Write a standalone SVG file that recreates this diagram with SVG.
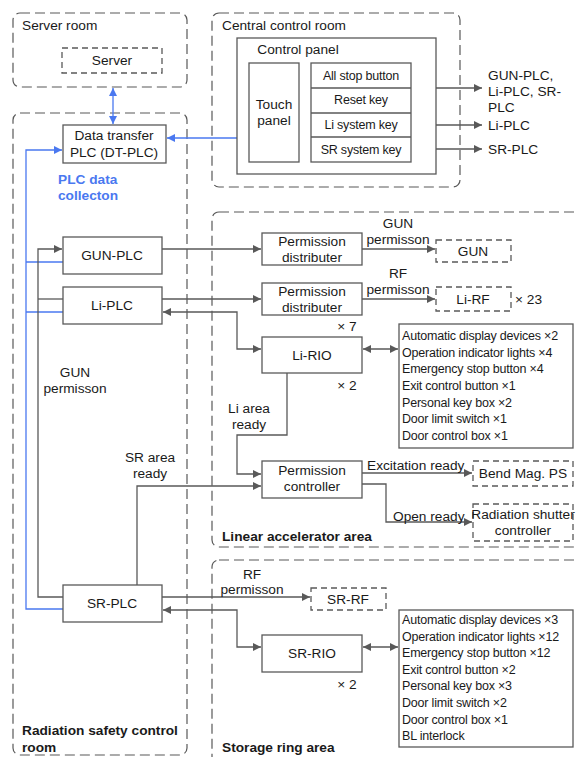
<svg xmlns="http://www.w3.org/2000/svg" width="576" height="757" viewBox="0 0 576 757">
<defs>
<marker id="ag" viewBox="0 0 10 10" refX="10" refY="5" markerWidth="8" markerHeight="8" markerUnits="userSpaceOnUse" orient="auto-start-reverse"><path d="M0,0 L10,5 L0,10 z" fill="#595959"/></marker>
<marker id="ab" viewBox="0 0 10 10" refX="10" refY="5" markerWidth="8" markerHeight="8" markerUnits="userSpaceOnUse" orient="auto-start-reverse"><path d="M0,0 L10,5 L0,10 z" fill="#4a78f0"/></marker>
<style>
text{font-family:"Liberation Sans",Arial,sans-serif;fill:#1a1a1a;font-size:13.7px}
.c{text-anchor:middle}
.b{font-weight:bold}
.bl{fill:#4a78f0;font-weight:bold}
.sm{font-size:12.5px;letter-spacing:-0.2px}
.room{fill:none;stroke:#595959;stroke-width:1.2;stroke-dasharray:10 5}
.box{fill:#fff;stroke:#595959;stroke-width:1.3}
.dbox{fill:#fff;stroke:#595959;stroke-width:1.3;stroke-dasharray:6 4}
.ln{fill:none;stroke:#595959;stroke-width:1.3}
.bln{fill:none;stroke:#4a78f0;stroke-width:1.3}
</style>
</defs>
<rect width="576" height="757" fill="#fff"/>
<g id="rooms">
<rect class="room" x="13" y="13" width="174" height="74" rx="7"/>
<rect class="room" x="13" y="113" width="174" height="642" rx="7"/>
<rect class="room" x="212" y="13" width="248" height="174" rx="7"/>
<rect class="room" x="212" y="212" width="380" height="335" rx="7"/>
<rect class="room" x="212" y="560" width="380" height="210" rx="7"/>
<text x="22" y="30">Server room</text>
<text x="222" y="30">Central control room</text>
<text class="b" x="22" y="735">Radiation safety control</text>
<text class="b" x="22" y="752">room</text>
<text class="b" x="222" y="541">Linear accelerator area</text>
<text class="b" x="222" y="752">Storage ring area</text>
<text class="bl" x="58" y="184">PLC data</text>
<text class="bl" x="58" y="200">collecton</text>
</g>
<g id="connectors">
<line class="bln" x1="113" y1="88" x2="113" y2="124" marker-start="url(#ab)" marker-end="url(#ab)"/>
<line class="bln" x1="167" y1="138" x2="248" y2="138" marker-start="url(#ab)" marker-end="url(#ab)"/>
<polyline class="bln" points="63,609 26,609 26,150 62,150" marker-end="url(#ab)"/>
<line class="bln" x1="26" y1="262" x2="63" y2="262"/>
<line class="bln" x1="26" y1="312" x2="63" y2="312"/>
<polyline class="ln" points="411,76 423,76 423,100 411,100"/>
<line class="ln" x1="423" y1="88" x2="482" y2="88" marker-end="url(#ag)"/>
<line class="ln" x1="411" y1="125" x2="482" y2="125" marker-end="url(#ag)"/>
<line class="ln" x1="411" y1="149" x2="482" y2="149" marker-end="url(#ag)"/>
<polyline class="ln" points="63,597 38,597 38,249 62,249" marker-end="url(#ag)"/>
<line class="ln" x1="38" y1="299" x2="63" y2="299"/>
<line class="ln" x1="162" y1="249" x2="261" y2="249" marker-end="url(#ag)"/>
<line class="ln" x1="162" y1="299" x2="261" y2="299" marker-end="url(#ag)"/>
<line class="ln" x1="362" y1="249" x2="435" y2="249" marker-end="url(#ag)"/>
<line class="ln" x1="362" y1="299" x2="435" y2="299" marker-end="url(#ag)"/>
<polyline class="ln" points="261,349 237,349 237,312 163,312" marker-start="url(#ag)" marker-end="url(#ag)"/>
<line class="ln" x1="363" y1="349" x2="398" y2="349" marker-start="url(#ag)" marker-end="url(#ag)"/>
<polyline class="ln" points="287,373 287,435 237,435 237,474 261,474" marker-end="url(#ag)"/>
<polyline class="ln" points="137,585 137,486 261,486" marker-end="url(#ag)"/>
<line class="ln" x1="362" y1="473" x2="472" y2="473" marker-end="url(#ag)"/>
<polyline class="ln" points="362,484 386,484 386,522 472,522" marker-end="url(#ag)"/>
<line class="ln" x1="162" y1="597" x2="310" y2="597" marker-end="url(#ag)"/>
<polyline class="ln" points="261,647 237,647 237,610 163,610" marker-start="url(#ag)" marker-end="url(#ag)"/>
<line class="ln" x1="363" y1="647" x2="398" y2="647" marker-start="url(#ag)" marker-end="url(#ag)"/>
<text x="488" y="80">GUN-PLC,</text>
<text x="488" y="96">Li-PLC, SR-</text>
<text x="488" y="112">PLC</text>
<text x="488" y="130">Li-PLC</text>
<text x="488" y="154">SR-PLC</text>
<text class="c" x="75" y="377">GUN</text>
<text class="c" x="75" y="393">permisson</text>
<text class="c" x="398" y="228">GUN</text>
<text class="c" x="398" y="244">permisson</text>
<text class="c" x="398" y="278">RF</text>
<text class="c" x="398" y="294">permisson</text>
<text x="515" y="304">× 23</text>
<text class="c" x="347" y="331">× 7</text>
<text class="c" x="347" y="390">× 2</text>
<text class="c" x="249" y="413">Li area</text>
<text class="c" x="249" y="429">ready</text>
<text class="c" x="150" y="462">SR area</text>
<text class="c" x="150" y="478">ready</text>
<text x="367" y="470">Excitation ready</text>
<text x="393" y="521">Open ready</text>
<text class="c" x="252" y="579">RF</text>
<text class="c" x="252" y="594">permisson</text>
<text class="c" x="347" y="689">× 2</text>
</g>
<g id="server"><rect class="dbox" x="62" y="48" width="100" height="25"/><text class="c" x="112" y="65">Server</text></g>
<g id="dtplc"><rect class="box" x="63" y="125" width="103" height="38"/><text class="c" x="114" y="140">Data transfer</text><text class="c" x="114" y="157">PLC (DT-PLC)</text></g>
<g id="controlpanel"><rect class="box" x="237" y="38" width="199" height="136"/><text class="c" x="298" y="54">Control panel</text></g>
<g id="touchpanel"><rect class="box" x="249" y="63" width="50" height="99"/><text class="c" x="274" y="109">Touch</text><text class="c" x="274" y="125">panel</text></g>
<g id="keys">
<rect class="box" x="311" y="63" width="100" height="99"/>
<line class="ln" x1="311" y1="88" x2="411" y2="88"/>
<line class="ln" x1="311" y1="113" x2="411" y2="113"/>
<line class="ln" x1="311" y1="137" x2="411" y2="137"/>
<text class="c sm" x="361" y="80">All stop button</text>
<text class="c sm" x="361" y="104">Reset key</text>
<text class="c sm" x="361" y="129">Li system key</text>
<text class="c sm" x="361" y="154">SR system key</text>
</g>
<g id="gunplc"><rect class="box" x="63" y="237" width="99" height="37"/><text class="c" x="112" y="260">GUN-PLC</text></g>
<g id="liplc"><rect class="box" x="63" y="287" width="99" height="37"/><text class="c" x="112" y="310">Li-PLC</text></g>
<g id="srplc"><rect class="box" x="63" y="585" width="99" height="37"/><text class="c" x="112" y="608">SR-PLC</text></g>
<g id="pd1"><rect class="box" x="262" y="233" width="100" height="32"/><text class="c" x="312" y="246">Permission</text><text class="c" x="312" y="262">distributer</text></g>
<g id="pd2"><rect class="box" x="262" y="283" width="100" height="32"/><text class="c" x="312" y="296">Permission</text><text class="c" x="312" y="312">distributer</text></g>
<g id="gun"><rect class="dbox" x="436" y="240" width="75" height="22"/><text class="c" x="473" y="256">GUN</text></g>
<g id="lirf"><rect class="dbox" x="436" y="287" width="75" height="24"/><text class="c" x="473" y="304">Li-RF</text></g>
<g id="lirio"><rect class="box" x="262" y="337" width="100" height="36"/><text class="c" x="312" y="360">Li-RIO</text></g>
<g id="lilist"><rect class="box" x="399" y="324" width="174" height="124"/>
<text class="sm" x="402" y="340">Automatic display devices ×2</text>
<text class="sm" x="402" y="357">Operation indicator lights ×4</text>
<text class="sm" x="402" y="373">Emergency stop button ×4</text>
<text class="sm" x="402" y="390">Exit control button ×1</text>
<text class="sm" x="402" y="407">Personal key box ×2</text>
<text class="sm" x="402" y="423">Door limit switch ×1</text>
<text class="sm" x="402" y="440">Door control box ×1</text>
</g>
<g id="permctrl"><rect class="box" x="262" y="461" width="100" height="37"/><text class="c" x="312" y="475">Permission</text><text class="c" x="312" y="491">controller</text></g>
<g id="bendmag"><rect class="dbox" x="473" y="461" width="100" height="25"/><text class="c" x="523" y="478">Bend Mag. PS</text></g>
<g id="shutter"><rect class="dbox" x="473" y="504" width="100" height="37"/><text class="c" x="523" y="519">Radiation shutter</text><text class="c" x="523" y="535">controller</text></g>
<g id="srrf"><rect class="dbox" x="311" y="588" width="75" height="22"/><text class="c" x="348" y="604">SR-RF</text></g>
<g id="srrio"><rect class="box" x="262" y="635" width="100" height="37"/><text class="c" x="312" y="658">SR-RIO</text></g>
<g id="srlist"><rect class="box" x="399" y="610" width="174" height="137"/>
<text class="sm" x="402" y="624">Automatic display devices ×3</text>
<text class="sm" x="402" y="641">Operation indicator lights ×12</text>
<text class="sm" x="402" y="657">Emergency stop button ×12</text>
<text class="sm" x="402" y="674">Exit control button ×2</text>
<text class="sm" x="402" y="690">Personal key box ×3</text>
<text class="sm" x="402" y="707">Door limit switch ×2</text>
<text class="sm" x="402" y="724">Door control box ×1</text>
<text class="sm" x="402" y="740">BL interlock</text>
</g>
</svg>
